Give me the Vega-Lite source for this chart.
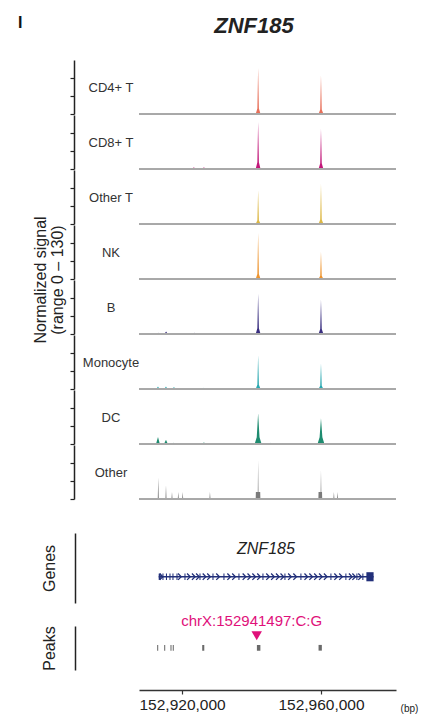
{
  "$schema": "https://vega.github.io/schema/vega-lite/v6.json",
  "padding": {"left": 17, "top": 15, "right": 4, "bottom": 2},
  "config": {"font": "Liberation Sans", "view": {"stroke": null}, "axis": {"grid": false}},
  "title": {"text": "I", "fontSize": 16, "fontWeight": "bold", "color": "#111", "anchor": "start", "frame": "bounds", "offset": -12, "dx": -15, "dy": 4},
  "datasets": {
    "signal": [
      {"cell": "CD4+ T", "pos": 152925800, "sig": 0}, {"cell": "CD4+ T", "pos": 152926300, "sig": 2}, {"cell": "CD4+ T", "pos": 152926800, "sig": 0},
      {"cell": "CD4+ T", "pos": 152941200, "sig": 0}, {"cell": "CD4+ T", "pos": 152941680, "sig": 13}, {"cell": "CD4+ T", "pos": 152941900, "sig": 111}, {"cell": "CD4+ T", "pos": 152942120, "sig": 13}, {"cell": "CD4+ T", "pos": 152942600, "sig": 0},
      {"cell": "CD4+ T", "pos": 152959300, "sig": 0}, {"cell": "CD4+ T", "pos": 152959780, "sig": 11}, {"cell": "CD4+ T", "pos": 152960000, "sig": 93}, {"cell": "CD4+ T", "pos": 152960220, "sig": 11}, {"cell": "CD4+ T", "pos": 152960700, "sig": 0},

      {"cell": "CD8+ T", "pos": 152922900, "sig": 0}, {"cell": "CD8+ T", "pos": 152923400, "sig": 4}, {"cell": "CD8+ T", "pos": 152923900, "sig": 0},
      {"cell": "CD8+ T", "pos": 152925800, "sig": 0}, {"cell": "CD8+ T", "pos": 152926300, "sig": 4}, {"cell": "CD8+ T", "pos": 152926800, "sig": 0},
      {"cell": "CD8+ T", "pos": 152941200, "sig": 0}, {"cell": "CD8+ T", "pos": 152941680, "sig": 16}, {"cell": "CD8+ T", "pos": 152941900, "sig": 113}, {"cell": "CD8+ T", "pos": 152942120, "sig": 16}, {"cell": "CD8+ T", "pos": 152942600, "sig": 0},
      {"cell": "CD8+ T", "pos": 152959300, "sig": 0}, {"cell": "CD8+ T", "pos": 152959780, "sig": 14}, {"cell": "CD8+ T", "pos": 152960000, "sig": 97}, {"cell": "CD8+ T", "pos": 152960220, "sig": 14}, {"cell": "CD8+ T", "pos": 152960700, "sig": 0},

      {"cell": "Other T", "pos": 152941200, "sig": 0}, {"cell": "Other T", "pos": 152941680, "sig": 9}, {"cell": "Other T", "pos": 152941900, "sig": 81}, {"cell": "Other T", "pos": 152942120, "sig": 9}, {"cell": "Other T", "pos": 152942600, "sig": 0},
      {"cell": "Other T", "pos": 152952500, "sig": 0}, {"cell": "Other T", "pos": 152953000, "sig": 2}, {"cell": "Other T", "pos": 152953500, "sig": 0},
      {"cell": "Other T", "pos": 152959300, "sig": 0}, {"cell": "Other T", "pos": 152959780, "sig": 11}, {"cell": "Other T", "pos": 152960000, "sig": 97}, {"cell": "Other T", "pos": 152960220, "sig": 11}, {"cell": "Other T", "pos": 152960700, "sig": 0},

      {"cell": "NK", "pos": 152941200, "sig": 0}, {"cell": "NK", "pos": 152941680, "sig": 12}, {"cell": "NK", "pos": 152941900, "sig": 111}, {"cell": "NK", "pos": 152942120, "sig": 12}, {"cell": "NK", "pos": 152942600, "sig": 0},
      {"cell": "NK", "pos": 152959300, "sig": 0}, {"cell": "NK", "pos": 152959780, "sig": 8}, {"cell": "NK", "pos": 152960000, "sig": 66}, {"cell": "NK", "pos": 152960220, "sig": 8}, {"cell": "NK", "pos": 152960700, "sig": 0},

      {"cell": "B", "pos": 152912700, "sig": 0}, {"cell": "B", "pos": 152913100, "sig": 3}, {"cell": "B", "pos": 152913500, "sig": 0},
      {"cell": "B", "pos": 152914900, "sig": 0}, {"cell": "B", "pos": 152915400, "sig": 6}, {"cell": "B", "pos": 152915900, "sig": 0},
      {"cell": "B", "pos": 152923000, "sig": 0}, {"cell": "B", "pos": 152923500, "sig": 3}, {"cell": "B", "pos": 152924000, "sig": 0},
      {"cell": "B", "pos": 152934000, "sig": 0}, {"cell": "B", "pos": 152934400, "sig": 2}, {"cell": "B", "pos": 152934800, "sig": 0},
      {"cell": "B", "pos": 152941200, "sig": 0}, {"cell": "B", "pos": 152941680, "sig": 14}, {"cell": "B", "pos": 152941900, "sig": 97}, {"cell": "B", "pos": 152942120, "sig": 14}, {"cell": "B", "pos": 152942600, "sig": 0},
      {"cell": "B", "pos": 152959300, "sig": 0}, {"cell": "B", "pos": 152959780, "sig": 12}, {"cell": "B", "pos": 152960000, "sig": 83}, {"cell": "B", "pos": 152960220, "sig": 12}, {"cell": "B", "pos": 152960700, "sig": 0},
      {"cell": "B", "pos": 152964600, "sig": 0}, {"cell": "B", "pos": 152965000, "sig": 2}, {"cell": "B", "pos": 152965400, "sig": 0},
      {"cell": "B", "pos": 152970500, "sig": 0}, {"cell": "B", "pos": 152971000, "sig": 2}, {"cell": "B", "pos": 152971500, "sig": 0},

      {"cell": "Monocyte", "pos": 152912600, "sig": 0}, {"cell": "Monocyte", "pos": 152913070, "sig": 6}, {"cell": "Monocyte", "pos": 152913500, "sig": 0},
      {"cell": "Monocyte", "pos": 152914900, "sig": 0}, {"cell": "Monocyte", "pos": 152915370, "sig": 6}, {"cell": "Monocyte", "pos": 152915800, "sig": 0},
      {"cell": "Monocyte", "pos": 152917200, "sig": 0}, {"cell": "Monocyte", "pos": 152917670, "sig": 5}, {"cell": "Monocyte", "pos": 152918100, "sig": 0},
      {"cell": "Monocyte", "pos": 152925900, "sig": 0}, {"cell": "Monocyte", "pos": 152926300, "sig": 3}, {"cell": "Monocyte", "pos": 152926700, "sig": 0},
      {"cell": "Monocyte", "pos": 152941200, "sig": 0}, {"cell": "Monocyte", "pos": 152941680, "sig": 10}, {"cell": "Monocyte", "pos": 152941900, "sig": 81}, {"cell": "Monocyte", "pos": 152942120, "sig": 10}, {"cell": "Monocyte", "pos": 152942600, "sig": 0},
      {"cell": "Monocyte", "pos": 152959300, "sig": 0}, {"cell": "Monocyte", "pos": 152959780, "sig": 8}, {"cell": "Monocyte", "pos": 152960000, "sig": 62}, {"cell": "Monocyte", "pos": 152960220, "sig": 8}, {"cell": "Monocyte", "pos": 152960700, "sig": 0},

      {"cell": "DC", "pos": 152912500, "sig": 0}, {"cell": "DC", "pos": 152913070, "sig": 17}, {"cell": "DC", "pos": 152913600, "sig": 0},
      {"cell": "DC", "pos": 152914800, "sig": 0}, {"cell": "DC", "pos": 152915370, "sig": 10}, {"cell": "DC", "pos": 152915900, "sig": 0},
      {"cell": "DC", "pos": 152917200, "sig": 0}, {"cell": "DC", "pos": 152917600, "sig": 3}, {"cell": "DC", "pos": 152918000, "sig": 0},
      {"cell": "DC", "pos": 152919300, "sig": 0}, {"cell": "DC", "pos": 152919700, "sig": 2}, {"cell": "DC", "pos": 152920100, "sig": 0},
      {"cell": "DC", "pos": 152925900, "sig": 0}, {"cell": "DC", "pos": 152926300, "sig": 4}, {"cell": "DC", "pos": 152926700, "sig": 0},
      {"cell": "DC", "pos": 152933600, "sig": 0}, {"cell": "DC", "pos": 152934000, "sig": 2}, {"cell": "DC", "pos": 152934400, "sig": 0},
      {"cell": "DC", "pos": 152940900, "sig": 0}, {"cell": "DC", "pos": 152941500, "sig": 16}, {"cell": "DC", "pos": 152941900, "sig": 74}, {"cell": "DC", "pos": 152942300, "sig": 16}, {"cell": "DC", "pos": 152942900, "sig": 0},
      {"cell": "DC", "pos": 152945200, "sig": 0}, {"cell": "DC", "pos": 152945600, "sig": 3}, {"cell": "DC", "pos": 152946000, "sig": 0},
      {"cell": "DC", "pos": 152948500, "sig": 0}, {"cell": "DC", "pos": 152948900, "sig": 2}, {"cell": "DC", "pos": 152949300, "sig": 0},
      {"cell": "DC", "pos": 152959000, "sig": 0}, {"cell": "DC", "pos": 152959600, "sig": 16}, {"cell": "DC", "pos": 152960000, "sig": 62}, {"cell": "DC", "pos": 152960400, "sig": 16}, {"cell": "DC", "pos": 152961000, "sig": 0},
      {"cell": "DC", "pos": 152966000, "sig": 0}, {"cell": "DC", "pos": 152966400, "sig": 2}, {"cell": "DC", "pos": 152966800, "sig": 0},

      {"cell": "Other", "pos": 152913000, "sig": 0}, {"cell": "Other", "pos": 152913150, "sig": 52}, {"cell": "Other", "pos": 152913300, "sig": 0},
      {"cell": "Other", "pos": 152915220, "sig": 0}, {"cell": "Other", "pos": 152915370, "sig": 33}, {"cell": "Other", "pos": 152915520, "sig": 0},
      {"cell": "Other", "pos": 152916950, "sig": 0}, {"cell": "Other", "pos": 152917100, "sig": 17}, {"cell": "Other", "pos": 152917250, "sig": 0},
      {"cell": "Other", "pos": 152918760, "sig": 0}, {"cell": "Other", "pos": 152918910, "sig": 17}, {"cell": "Other", "pos": 152919060, "sig": 0},
      {"cell": "Other", "pos": 152920030, "sig": 0}, {"cell": "Other", "pos": 152920180, "sig": 17}, {"cell": "Other", "pos": 152920330, "sig": 0},
      {"cell": "Other", "pos": 152927880, "sig": 0}, {"cell": "Other", "pos": 152928030, "sig": 17}, {"cell": "Other", "pos": 152928180, "sig": 0},
      {"cell": "Other", "pos": 152941200, "sig": 0}, {"cell": "Other", "pos": 152941250, "sig": 17}, {"cell": "Other", "pos": 152941800, "sig": 17}, {"cell": "Other", "pos": 152941900, "sig": 93}, {"cell": "Other", "pos": 152942000, "sig": 17}, {"cell": "Other", "pos": 152942500, "sig": 17}, {"cell": "Other", "pos": 152942550, "sig": 0},
      {"cell": "Other", "pos": 152959250, "sig": 0}, {"cell": "Other", "pos": 152959300, "sig": 17}, {"cell": "Other", "pos": 152959900, "sig": 17}, {"cell": "Other", "pos": 152960000, "sig": 69}, {"cell": "Other", "pos": 152960100, "sig": 17}, {"cell": "Other", "pos": 152960300, "sig": 17}, {"cell": "Other", "pos": 152960350, "sig": 0},
      {"cell": "Other", "pos": 152963570, "sig": 0}, {"cell": "Other", "pos": 152963720, "sig": 17}, {"cell": "Other", "pos": 152963870, "sig": 0},
      {"cell": "Other", "pos": 152964640, "sig": 0}, {"cell": "Other", "pos": 152964790, "sig": 17}, {"cell": "Other", "pos": 152964940, "sig": 0}
    ],
    "gene": [{"name": "ZNF185", "start": 152913270, "end": 152975150}],
    "exons": [
      {"start": 152913270, "end": 152913870}, {"start": 152914350, "end": 152914650}, {"start": 152915360, "end": 152915660},
      {"start": 152916370, "end": 152916670}, {"start": 152917230, "end": 152917530}, {"start": 152918390, "end": 152918690},
      {"start": 152920690, "end": 152920990}, {"start": 152925010, "end": 152925310}, {"start": 152928750, "end": 152929050},
      {"start": 152931910, "end": 152932210}, {"start": 152936230, "end": 152936530}, {"start": 152943140, "end": 152943440},
      {"start": 152949470, "end": 152949770}, {"start": 152954070, "end": 152954370}, {"start": 152962710, "end": 152963010},
      {"start": 152967020, "end": 152967320}, {"start": 152970190, "end": 152970490}, {"start": 152971910, "end": 152972210}
    ],
    "utr": [{"start": 152973070, "end": 152975150}],
    "arrows": [
      {"pos": 152914000}, {"pos": 152919300}, {"pos": 152921900}, {"pos": 152923300}, {"pos": 152924500},
      {"pos": 152926400}, {"pos": 152927700}, {"pos": 152930300}, {"pos": 152933500}, {"pos": 152934900},
      {"pos": 152937900}, {"pos": 152939300}, {"pos": 152940700}, {"pos": 152942100}, {"pos": 152944700},
      {"pos": 152946100}, {"pos": 152947500}, {"pos": 152948800}, {"pos": 152951000}, {"pos": 152952500},
      {"pos": 152955700}, {"pos": 152957100}, {"pos": 152958500}, {"pos": 152959900}, {"pos": 152961300},
      {"pos": 152964300}, {"pos": 152965700}, {"pos": 152968500}, {"pos": 152969500}, {"pos": 152971200}
    ],
    "peaks": [
      {"start": 152912830, "end": 152913130}, {"start": 152914850, "end": 152915150}, {"start": 152916660, "end": 152916960},
      {"start": 152917320, "end": 152917620}, {"start": 152925800, "end": 152926400}, {"start": 152941550, "end": 152942550},
      {"start": 152959300, "end": 152960250}
    ],
    "snp": [{"pos": 152941497, "label": "chrX:152941497:C:G"}]
  },
  "spacing": 33,
  "vconcat": [
    {
      "data": {"name": "signal"},
      "title": {"text": "ZNF185", "fontSize": 22, "fontStyle": "italic", "fontWeight": "bold", "color": "#222", "anchor": "middle", "frame": "group", "offset": 22, "dx": 115},
      "facet": {
        "row": {
          "field": "cell", "type": "nominal",
          "sort": ["CD4+ T", "CD8+ T", "Other T", "NK", "B", "Monocyte", "DC", "Other"],
          "header": {"labels": false, "title": ["Normalized signal", "(range 0 – 130)"], "titleFontSize": 16, "titleFontWeight": "normal", "titleColor": "#222", "titlePadding": -7, "titleLineHeight": 17}
        }
      },
      "spacing": 0,
      "spec": {
        "width": 257,
        "height": 54,
        "layer": [
          {
            "mark": {"type": "area", "interpolate": "linear"},
            "encoding": {
              "x": {"field": "pos", "type": "quantitative", "scale": {"domain": [152907600, 152981600]}, "axis": null},
              "y": {"field": "sig", "type": "quantitative", "scale": {"domain": [0, 130]},
                    "axis": {"values": [0, 43.3, 86.7], "labels": false, "ticks": true, "tickSize": 4, "tickColor": "#222", "tickWidth": 1.2, "domain": true, "domainColor": "#222", "domainWidth": 1.5, "title": null, "offset": 8, "grid": false}},
              "color": {"field": "cell", "type": "nominal",
                        "scale": {"domain": ["CD4+ T", "CD8+ T", "Other T", "NK", "B", "Monocyte", "DC", "Other"],
                                  "range": ["#E8705A", "#C2187A", "#DDB845", "#EE9530", "#3A2F80", "#2AA8B0", "#1E8C70", "#7A7A7A"]},
                        "legend": null}
            }
          },
          {
            "mark": {"type": "rule", "color": "#a8a8a8", "strokeWidth": 1},
            "encoding": {"y": {"datum": 0,
                    "axis": {"values": [0, 43.3, 86.7], "labels": false, "ticks": true, "tickSize": 4, "tickColor": "#222", "tickWidth": 1.2, "domain": true, "domainColor": "#222", "domainWidth": 1.5, "title": null, "offset": 8, "grid": false}}}
          },
          {
            "transform": [{"aggregate": [{"op": "count", "as": "n"}], "groupby": ["cell"]}],
            "mark": {"type": "text", "fontSize": 13, "color": "#333", "align": "center", "baseline": "middle"},
            "encoding": {
              "x": {"datum": 152899540, "scale": {"domain": [152907600, 152981600]}, "axis": null},
              "y": {"datum": 62,
                    "axis": {"values": [0, 43.3, 86.7], "labels": false, "ticks": true, "tickSize": 4, "tickColor": "#222", "tickWidth": 1.2, "domain": true, "domainColor": "#222", "domainWidth": 1.5, "title": null, "offset": 8, "grid": false}},
              "text": {"field": "cell"}
            }
          }
        ]
      }
    },
    {
      "spacing": 11,
      "vconcat": [
        {
          "width": 257,
          "height": 70,
          "encoding": {
            "y": {"datum": 0.376, "type": "quantitative", "scale": {"domain": [0, 1]},
                  "axis": {"title": "Genes", "titleFontSize": 16, "titleFontWeight": "normal", "titleColor": "#222", "labels": false, "ticks": false, "domain": true, "domainColor": "#222", "domainWidth": 1.5, "offset": 64, "titlePadding": 18, "grid": false}}
          },
          "layer": [
            {
              "data": {"name": "gene"},
              "mark": {"type": "rule", "color": "#22307A", "strokeWidth": 1.5},
              "encoding": {
                "x": {"field": "start", "type": "quantitative", "scale": {"domain": [152907600, 152981600]}, "axis": null},
                "x2": {"field": "end"}
              }
            },
            {
              "data": {"name": "exons"},
              "mark": {"type": "rect", "color": "#22307A"},
              "encoding": {
                "x": {"field": "start", "type": "quantitative", "scale": {"domain": [152907600, 152981600]}, "axis": null},
                "x2": {"field": "end"},
                "y": {"datum": 0.33, "type": "quantitative", "scale": {"domain": [0, 1]},
                      "axis": {"title": "Genes", "titleFontSize": 16, "titleFontWeight": "normal", "titleColor": "#222", "labels": false, "ticks": false, "domain": true, "domainColor": "#222", "domainWidth": 1.5, "offset": 64, "titlePadding": 18, "grid": false}},
                "y2": {"datum": 0.42}
              }
            },
            {
              "data": {"name": "utr"},
              "mark": {"type": "rect", "color": "#22307A"},
              "encoding": {
                "x": {"field": "start", "type": "quantitative", "scale": {"domain": [152907600, 152981600]}, "axis": null},
                "x2": {"field": "end"},
                "y": {"datum": 0.31, "type": "quantitative", "scale": {"domain": [0, 1]},
                      "axis": {"title": "Genes", "titleFontSize": 16, "titleFontWeight": "normal", "titleColor": "#222", "labels": false, "ticks": false, "domain": true, "domainColor": "#222", "domainWidth": 1.5, "offset": 64, "titlePadding": 18, "grid": false}},
                "y2": {"datum": 0.44}
              }
            },
            {
              "data": {"name": "arrows"},
              "mark": {"type": "point", "shape": "M-0.5,-1L0.5,0L-0.5,1", "filled": false, "color": "#22307A", "strokeWidth": 1.3, "size": 40, "opacity": 1},
              "encoding": {
                "x": {"field": "pos", "type": "quantitative", "scale": {"domain": [152907600, 152981600]}, "axis": null}
              }
            },
            {
              "data": {"name": "gene"},
              "mark": {"type": "text", "fontSize": 16, "fontStyle": "italic", "color": "#222", "align": "center", "baseline": "alphabetic"},
              "encoding": {
                "x": {"datum": 152944150, "scale": {"domain": [152907600, 152981600]}, "axis": null},
                "y": {"datum": 0.7, "type": "quantitative", "scale": {"domain": [0, 1]},
                      "axis": {"title": "Genes", "titleFontSize": 16, "titleFontWeight": "normal", "titleColor": "#222", "labels": false, "ticks": false, "domain": true, "domainColor": "#222", "domainWidth": 1.5, "offset": 64, "titlePadding": 18, "grid": false}},
                "text": {"field": "name"}
              }
            }
          ]
        },
        {
          "width": 257,
          "height": 44,
          "layer": [
            {
              "data": {"name": "peaks"},
              "mark": {"type": "rect", "color": "#6a6a6a"},
              "encoding": {
                "x": {"field": "start", "type": "quantitative", "scale": {"domain": [152907600, 152981600]},
                      "axis": {"values": [152920000, 152960000], "format": ",d", "offset": 20, "domain": true, "domainColor": "#333", "domainWidth": 1.5, "tickSize": 4, "tickColor": "#333", "tickWidth": 1.2, "labelFontSize": 15.5, "labelColor": "#222", "labelPadding": 3, "labelDx": 5, "title": "(bp)", "titleFontSize": 10, "titleFontWeight": "normal", "titleColor": "#222", "titleX": 270, "titleY": 18, "titleAlign": "center", "titleBaseline": "middle", "grid": false}},
                "x2": {"field": "end"},
                "y": {"datum": 0.44, "type": "quantitative", "scale": {"domain": [0, 1]},
                      "axis": {"title": "Peaks", "titleFontSize": 16, "titleFontWeight": "normal", "titleColor": "#222", "labels": false, "ticks": false, "domain": true, "domainColor": "#222", "domainWidth": 1.5, "offset": 64, "titlePadding": 18, "grid": false}},
                "y2": {"datum": 0.57}
              }
            },
            {
              "data": {"name": "snp"},
              "mark": {"type": "point", "shape": "triangle-down", "filled": true, "color": "#E0107A", "size": 110, "opacity": 1},
              "encoding": {
                "x": {"field": "pos", "type": "quantitative", "scale": {"domain": [152907600, 152981600]},
                      "axis": {"values": [152920000, 152960000], "format": ",d", "offset": 20, "domain": true, "domainColor": "#333", "domainWidth": 1.5, "tickSize": 4, "tickColor": "#333", "tickWidth": 1.2, "labelFontSize": 15.5, "labelColor": "#222", "labelPadding": 3, "labelDx": 5, "title": "(bp)", "titleFontSize": 10, "titleFontWeight": "normal", "titleColor": "#222", "titleX": 270, "titleY": 18, "titleAlign": "center", "titleBaseline": "middle", "grid": false}},
                "y": {"datum": 0.78, "type": "quantitative", "scale": {"domain": [0, 1]},
                      "axis": {"title": "Peaks", "titleFontSize": 16, "titleFontWeight": "normal", "titleColor": "#222", "labels": false, "ticks": false, "domain": true, "domainColor": "#222", "domainWidth": 1.5, "offset": 64, "titlePadding": 18, "grid": false}}
              }
            },
            {
              "data": {"name": "snp"},
              "mark": {"type": "text", "fontSize": 15, "color": "#E0107A", "align": "center", "baseline": "alphabetic", "dx": -5},
              "encoding": {
                "x": {"field": "pos", "type": "quantitative", "scale": {"domain": [152907600, 152981600]},
                      "axis": {"values": [152920000, 152960000], "format": ",d", "offset": 20, "domain": true, "domainColor": "#333", "domainWidth": 1.5, "tickSize": 4, "tickColor": "#333", "tickWidth": 1.2, "labelFontSize": 15.5, "labelColor": "#222", "labelPadding": 3, "labelDx": 5, "title": "(bp)", "titleFontSize": 10, "titleFontWeight": "normal", "titleColor": "#222", "titleX": 270, "titleY": 18, "titleAlign": "center", "titleBaseline": "middle", "grid": false}},
                "y": {"datum": 1, "type": "quantitative", "scale": {"domain": [0, 1]},
                      "axis": {"title": "Peaks", "titleFontSize": 16, "titleFontWeight": "normal", "titleColor": "#222", "labels": false, "ticks": false, "domain": true, "domainColor": "#222", "domainWidth": 1.5, "offset": 64, "titlePadding": 18, "grid": false}},
                "text": {"field": "label"}
              }
            }
          ]
        }
      ]
    }
  ]
}
